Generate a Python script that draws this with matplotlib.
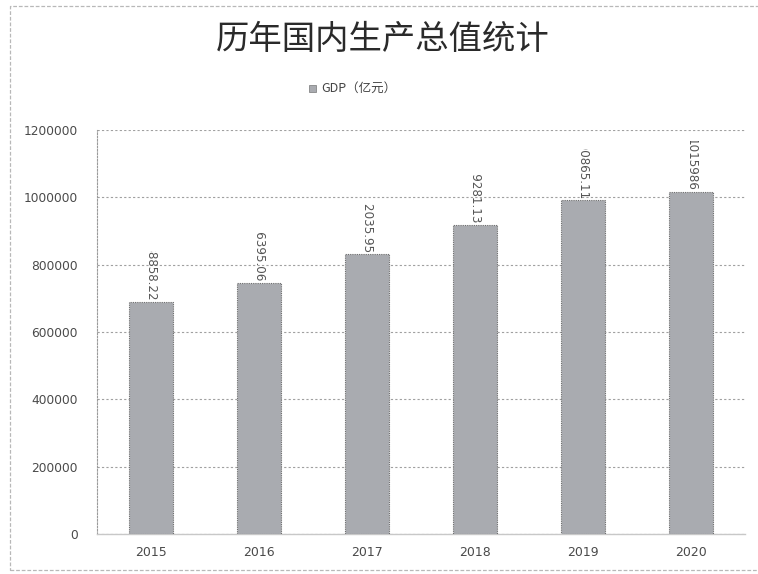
import matplotlib
matplotlib.use("Agg")
import matplotlib.pyplot as plt
from matplotlib.patches import Rectangle
from matplotlib.transforms import Bbox, TransformedBbox

years = ["2015", "2016", "2017", "2018", "2019", "2020"]
gdp = [688858.22, 746395.06, 832035.95, 919281.13, 990865.11, 1015986]
yticks = [0, 200000, 400000, 600000, 800000, 1000000, 1200000]
title = "历年国内生产总值统计"
legend_label = "GDP（亿元）"

plt.rcParams["font.family"] = ["Noto Sans CJK SC", "DejaVu Sans"]

W, H = 758, 574
fig = plt.figure(figsize=(W / 100, H / 100), dpi=100)
fig.patch.set_facecolor("white")

# outer chart frame (right side runs past the edge)
frame = Rectangle((10 / W, 4 / H), 820 / W, 564 / H, transform=fig.transFigure,
                  fill=False, edgecolor="#b8b8b8", linewidth=0.9,
                  linestyle=(0, (3, 1.5)))
fig.add_artist(frame)

ax = fig.add_axes([97 / W, 40 / H, 648 / W, 404 / H])
ax.set_facecolor("white")

x = range(len(years))
bar_color = "#a9abb0"
ax.bar(x, gdp, width=0.41, color=bar_color, edgecolor="#6e6e6e",
       linewidth=0.8, linestyle=(0, (1, 1)), zorder=3)

ax.set_xlim(-0.5, len(years) - 0.5)
ax.set_ylim(0, 1200000)
ax.set_yticks(yticks)
ax.set_yticklabels([str(v) for v in yticks], family="DejaVu Sans",
                   fontsize=8.8, color="#4a4a4a")
ax.set_xticks(list(x))
ax.set_xticklabels(years, family="DejaVu Sans", fontsize=9, color="#4a4a4a")
ax.tick_params(axis="y", length=0, pad=14)
ax.tick_params(axis="x", length=0, pad=9)

ax.grid(axis="y", color="#a0a0a0", linewidth=0.8, linestyle=(0, (2, 2)), zorder=0)
for s in ("top", "right"):
    ax.spines[s].set_visible(False)
ax.spines["left"].set_color("#9a9a9a")
ax.spines["left"].set_linestyle((0, (1.5, 1.5)))
ax.spines["left"].set_linewidth(0.8)
ax.spines["bottom"].set_color("#c8c8c8")
ax.spines["bottom"].set_linewidth(1.0)

# vertical value labels, clipped to a short box above each bar
px = 1200000 / 404.0
for i, v in enumerate(gdp):
    txt = f"{v:.2f}".rstrip("0").rstrip(".")
    t = ax.text(i, v + 1 * px, txt, rotation=-90, ha="center", va="bottom",
                family="DejaVu Sans", fontsize=8.6, color="#555555", zorder=4)
    box = TransformedBbox(Bbox([[i - 0.5, v - 20 * px], [i + 0.5, v + 51 * px]]),
                          ax.transData)
    t.set_clip_on(True)
    t.set_clip_box(box)
    t.set_clip_path(None)

fig.text(383 / W, 1 - 40 / H, title, ha="center", va="center",
         fontsize=24, fontweight="light", color="#2a2a2a")

# legend entry
fig.add_artist(Rectangle((309 / W, 1 - 92 / H), 7 / W, 7 / H,
                         transform=fig.transFigure, facecolor=bar_color,
                         edgecolor="#777777", linewidth=0.5))
fig.text(321 / W, 1 - 88.5 / H, legend_label, ha="left", va="center",
         fontsize=9, color="#444444")

fig.savefig("out.png", dpi=100, facecolor="white")
